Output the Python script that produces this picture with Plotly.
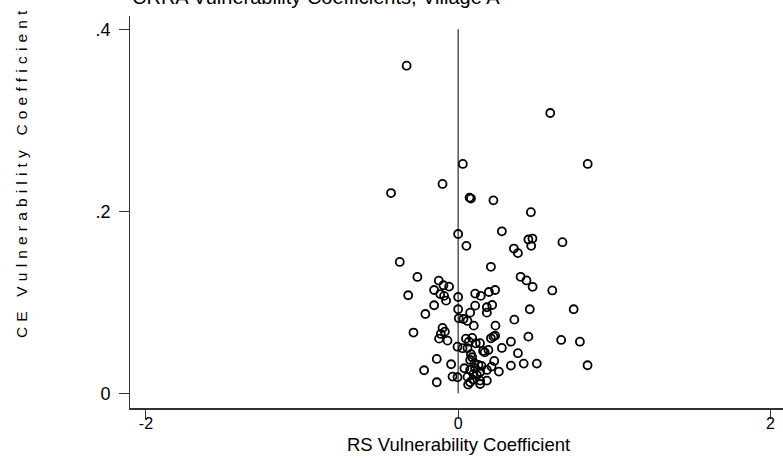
import plotly.graph_objects as go

# RS (x) and CE (y) vulnerability coefficients, one pair per household
rs_coef = [
    -0.33, 0.59, 0.03, 0.83, -0.10, -0.43, 0.073, 0.082, 0.226, 0.466,
    0.00, 0.28, 0.45, 0.476, 0.468, 0.668, 0.053, 0.357, 0.383,
    -0.374, 0.21, -0.261, 0.40, 0.438, 0.477, 0.603, -0.124, -0.094, -0.058,
    -0.154, -0.32, -0.115, -0.09, -0.077, 0.00, 0.109, 0.145, 0.197, 0.237,
    -0.154, -0.21, 0.00, 0.077, 0.109, 0.184, 0.218, 0.184, 0.459, 0.74,
    0.004, 0.034, 0.06, 0.10, 0.239, 0.36, -0.286, -0.10, -0.085, -0.111,
    -0.122, -0.068, -0.004, 0.028, 0.06, 0.069, 0.09, 0.113, 0.21, 0.226,
    0.237, 0.45, 0.338, 0.28, 0.16, 0.194, 0.383, 0.66, 0.78, -0.137,
    -0.045, -0.218, -0.137, -0.036, -0.004, 0.09, 0.077, 0.04, 0.077, 0.109,
    0.13, 0.104, 0.141, 0.184, 0.231, 0.214, 0.261, 0.338, 0.42, 0.504,
    0.829, 0.064, 0.077, 0.141, 0.141, 0.184, 0.098,
    0.082, 0.12, 0.06, 0.15, 0.095, 0.17, 0.05, 0.14,
]
ce_coef = [
    0.360, 0.308, 0.252, 0.252, 0.230, 0.220, 0.215, 0.214, 0.212, 0.199,
    0.175, 0.178, 0.169, 0.170, 0.162, 0.166, 0.162, 0.159, 0.154,
    0.1443, 0.139, 0.1278, 0.128, 0.124, 0.117, 0.113, 0.1238, 0.1187, 0.1172,
    0.1135, 0.1077, 0.109, 0.107, 0.1018, 0.1058, 0.1095, 0.107, 0.1113, 0.1135,
    0.0967, 0.0871, 0.0923, 0.0886, 0.0963, 0.0945, 0.097, 0.0886, 0.0923, 0.0923,
    0.0824, 0.0816, 0.0795, 0.0743, 0.0743, 0.0809, 0.0667, 0.0718, 0.0677, 0.0652,
    0.060, 0.0578, 0.0512, 0.0495, 0.0495, 0.0567, 0.0608, 0.0549, 0.0604, 0.0622,
    0.0633, 0.0622, 0.0567, 0.0498, 0.0465, 0.0476, 0.044, 0.0586, 0.0567, 0.0377,
    0.0319, 0.0253, 0.0121, 0.0183, 0.0176, 0.0396, 0.0366, 0.0275, 0.0256, 0.0275,
    0.0311, 0.033, 0.0234, 0.0256, 0.0355, 0.0293, 0.0238, 0.0304, 0.0326, 0.0326,
    0.0308, 0.0095, 0.0121, 0.0139, 0.0102, 0.0139, 0.0212,
    0.043, 0.020, 0.018, 0.030, 0.015, 0.045, 0.060, 0.055,
]

x_ticks = [-2, 0, 2]
x_tick_text = ["-2", "0", "2"]
y_ticks = [0, 0.2, 0.4]
y_tick_text = ["0", ".2", ".4"]

title_text = "CRRA Vulnerability Coefficients, Village A"
x_title = "RS Vulnerability Coefficient"
y_title = "CE Vulnerability Coefficient"

FONT = "Arial, 'Liberation Sans', sans-serif"

# widen the letter spacing of the vertical axis title
gap = "\u2004"
y_title_spaced = gap.join(list(y_title))

fig = go.Figure()
fig.add_trace(go.Scatter(
    x=rs_coef, y=ce_coef, mode="markers",
    marker=dict(symbol="circle-open", size=8, color="black",
                line=dict(color="black", width=1.8)),
    showlegend=False, hoverinfo="x+y",
))

# reference line at RS = 0
fig.add_shape(type="line", xref="x", yref="y", x0=0, x1=0, y0=0, y1=0.4,
              line=dict(color="black", width=1))

fig.update_layout(
    width=783, height=458,
    margin=dict(l=130, r=0, t=16, b=50),
    paper_bgcolor="white", plot_bgcolor="white",
    font=dict(family=FONT, color="black", size=14),
    xaxis=dict(range=[-2.102, 2.081], tickvals=x_ticks, ticktext=x_tick_text,
               showgrid=False, zeroline=False, showline=True,
               linecolor="#333333", linewidth=1.5,
               ticks="outside", ticklen=9, tickcolor="#333333",
               tickfont=dict(size=16), ticklabelstandoff=-9),
    yaxis=dict(range=[-0.0162, 0.4146], tickvals=y_ticks, ticktext=y_tick_text,
               showgrid=False, zeroline=False, showline=True,
               linecolor="#333333", linewidth=1,
               ticks="outside", ticklen=10, tickcolor="#333333",
               tickfont=dict(size=18), ticklabelstandoff=5),
    annotations=[
        dict(text=title_text, xref="paper", yref="paper", x=0.0, y=1.0,
             xanchor="left", yanchor="bottom", yshift=6, showarrow=False,
             font=dict(size=20)),
        dict(text=x_title, xref="x", yref="paper", x=0, y=0,
             xanchor="center", yanchor="middle", yshift=-36, showarrow=False,
             font=dict(size=18.5)),
        dict(text=y_title_spaced, xref="paper", yref="paper",
             x=0, y=(408 - 174) / 392, xshift=-108,
             xanchor="center", yanchor="middle", textangle=-90,
             showarrow=False, font=dict(size=15.5)),
    ],
)

fig.write_html("out.html")
